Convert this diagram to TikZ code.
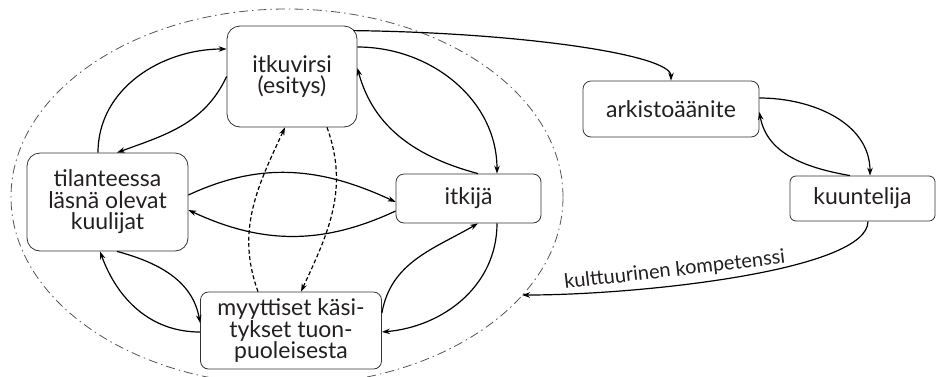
\documentclass[tikz,border=0pt]{standalone}
\usepackage{fontspec}
\setmainfont{Lato}
\usepackage{xcolor}
\usetikzlibrary{arrows.meta}

\definecolor{ink}{HTML}{231F20}
\definecolor{boxgray}{HTML}{333333}
\definecolor{rimgray}{HTML}{555555}

\begin{document}
\begin{tikzpicture}[x=1pt,y=1pt,>={Stealth[length=8pt,width=5.5pt]},
  every node/.style={text=ink,font=\fontsize{23}{21.5}\selectfont},
  box/.style={draw=boxgray,line width=.8pt,rounded corners=8pt,align=center,inner sep=0pt},
  link/.style={->,line width=1.2pt},
  dlink/.style={link,dash pattern=on 4pt off 2.5pt},
  rim/.style={rimgray,line width=.8pt,dash pattern=on 9pt off 4pt on 1.5pt off 4pt}]
\useasboundingbox (0,0) rectangle (936,-376);
\draw[rim] (287,-197) ellipse [x radius=276,y radius=188];
\coordinate (rimpt) at (522,-295);
\node[box,minimum width=130pt,minimum height=101pt,rounded corners=13pt] (virsi) at (292,-76.5) {itkuvirsi\\(esitys)};
\node[box,minimum width=161pt,minimum height=98pt,rounded corners=13pt] (tila) at (107.5,-202) {tilanteessa\\läsnä olevat\\kuulijat};
\node[box,minimum width=145pt,minimum height=49pt] (itkija) at (468.5,-198.5) {itkijä};
\node[box,minimum width=181pt,minimum height=77pt] (myyt) at (291,-330.5) {myyttiset käsi-\\tykset tuon-\\puoleisesta};
\node[box,minimum width=176pt,minimum height=56pt] (arkisto) at (671,-109) {arkistoäänite};
\node[box,minimum width=145pt,minimum height=45pt,rounded corners=6pt] (kuunt) at (862.5,-198.5) {kuuntelija};
\draw[link] (virsi.west) to[out=-115,in=20] ([xshift=9.5]tila.north);
\draw[link] ([xshift=-9.5]tila.north) to[out=90,in=180] ([yshift=27.5]virsi.west);
\draw[link] ([yshift=29.5]virsi.east) to[out=0,in=90] ([xshift=28.5]itkija.north);
\draw[link] ([xshift=9.5]itkija.north) to[out=165,in=-75] ([yshift=8.5]virsi.east);
\draw[link] ([yshift=7]tila.east) to[out=25,in=155] ([yshift=-3.5]itkija.west);
\draw[link] ([yshift=-12.5]itkija.west) to[out=-155,in=-25] ([yshift=-8]tila.east);
\draw[link] ([xshift=9.5]tila.south) to[out=-15,in=100] ([yshift=7.5]myyt.west);
\draw[link] ([yshift=-1.5]myyt.west) to[out=180,in=-70] ([xshift=-7.5]tila.south);
\draw[link] ([yshift=17.5]myyt.east) to[out=80,in=-150] ([xshift=9.5]itkija.south);
\draw[link] ([xshift=28.5]itkija.south) to[out=-90,in=5] ([yshift=-1.5]myyt.east);
\draw[dlink] ([xshift=-33]myyt.north) to[out=110,in=-115] ([xshift=-7]virsi.south);
\draw[dlink] ([xshift=35]virsi.south) to[out=-70,in=65] ([xshift=10]myyt.north);
\draw[link] ([xshift=-4,yshift=-5]virsi.north east) .. controls +(167,-2) and +(0,26) .. (arkisto.north);
\draw[link] ([yshift=11]arkisto.east) to[out=0,in=90] ([xshift=7.5]kuunt.north);
\draw[link] ([xshift=-12.5]kuunt.north) to[out=170,in=-80] ([yshift=-3]arkisto.east);
\draw[link] ([xshift=5.5]kuunt.south) .. controls +(0,-49) and +(118,0) .. (rimpt)
  node[pos=.64,sloped,above,yshift=2pt,font=\fontsize{20}{20}\selectfont] {kulttuurinen kompetenssi};
\end{tikzpicture}
\end{document}
